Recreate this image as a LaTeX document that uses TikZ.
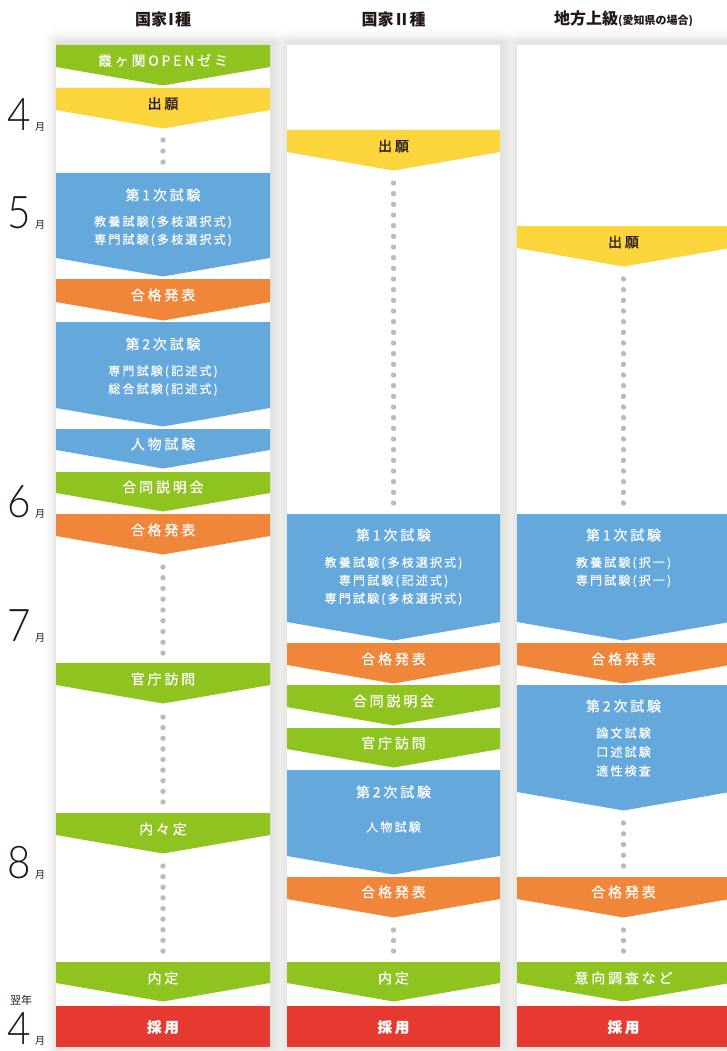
\documentclass[tikz,border=0pt]{standalone}
\usepackage{fontspec}
\newfontfamily\jpT[LetterSpace=20,FakeBold=0.5]{Noto Sans CJK JP}
\newfontfamily\jpS[LetterSpace=18,FakeBold=0.4]{Noto Sans CJK JP}
\newfontfamily\jpH{Noto Sans CJK JP}
\IfFontExistsTF{Lato Light}{\newfontfamily\monthfont{Lato Light}}{\newfontfamily\monthfont{Lato}}
\definecolor{cgreen}{HTML}{8FC31F}
\definecolor{cyellow}{HTML}{FCD43C}
\definecolor{cblue}{HTML}{65A9DC}
\definecolor{corange}{HTML}{F0863A}
\definecolor{cred}{HTML}{E63930}
\definecolor{cdot}{HTML}{BBBBBB}
\definecolor{ctext}{HTML}{231815}
\definecolor{cshadow}{HTML}{55554A}
\tikzset{
  ttl/.style={font=\jpT\fontsize{14}{16}\selectfont, text=white, inner sep=0pt},
  ttlk/.style={font=\jpT\fontsize{14}{16}\selectfont, text=ctext, inner sep=0pt},
  sub/.style={font=\jpS\fontsize{12}{18}\selectfont, text=white, inner sep=0pt, align=center},
  hire/.style={font=\jpT\bfseries\fontsize{14.5}{16}\selectfont, text=white, inner sep=0pt},
  head/.style={font=\jpH\bfseries\fontsize{16}{18}\selectfont, text=ctext, inner sep=0pt},
  mon/.style={font=\monthfont\fontsize{45}{45}\selectfont, text=ctext, inner sep=0pt, anchor=base west, xscale=0.9},
  monk/.style={font=\jpH\fontsize{10}{10}\selectfont, text=ctext, inner sep=0pt, anchor=base west},
}
\newcommand\chev[5]{%
  \fill[#5] (#1,#3) -- (#2,#3) -- (#2,#4) -- ({(#1+#2)/2},{#4+18.5}) -- (#1,#4) -- cycle;}
\newcommand\dotrun[4]{%
  \foreach \k in {1,...,#4}{\fill[cdot] (#1,{#2+(\k-1)*(#3-#2)/(#4-1)}) circle[radius=2.7];}}
\newcommand\colbg[2]{%
  \foreach \e/\o in {14/0.014,11/0.018,8/0.024,6/0.03,4/0.035,2/0.04}{%
    \fill[cshadow, opacity=\o, rounded corners=\e pt] ({#1-\e+2},{45-\e-2}) rectangle ({#2+\e+3},{1047+\e});}}
\begin{document}
\begin{tikzpicture}[x=1pt,y=-1pt]
\useasboundingbox (0,0) rectangle (727,1051);
\clip (0,0) rectangle (727,1051);
\fill[white] (0,0) rectangle (727,1051);
% column shadows and backgrounds
\colbg{56}{270}
\colbg{287}{500}
\colbg{517}{730}
\fill[white] (56,45) rectangle (270,1047);
\fill[white] (287,45) rectangle (500,1047);
\fill[white] (517,45) rectangle (730,1047);
% headers
\node[head] (h1) at (163,19) {国家\kern-4ptⅠ\kern-4pt種};
\node[head] (h2) at (393.5,19) {国家Ⅱ種};
\node[head] (h3) at (623.5,19) {地方上級{\fontsize{11}{12}\selectfont (愛知県の場合)}};
% months
\node[mon] (m4) at (7,131) {4}; \node[monk] (m4k) at (35,131) {月};
\node[mon] (m5) at (7,228) {5}; \node[monk] (m5k) at (35,228) {月};
\node[mon] (m6) at (7,517) {6}; \node[monk] (m6k) at (35,517) {月};
\node[mon] (m7) at (7,641) {7}; \node[monk] (m7k) at (35,641) {月};
\node[mon] (m8) at (7,878) {8}; \node[monk] (m8k) at (35,878) {月};
\node[monk, font=\jpH\fontsize{11}{11}\selectfont] (ny) at (10,1004) {翌年};
\node[mon] (m4b) at (7,1044) {4}; \node[monk] (m4bk) at (35,1044) {月};
% ---------- column 1
\chev{56}{270}{45}{67}{cgreen}   \node[ttl] (c1a) at (163,60.5) {霞ヶ関OPENゼミ};
\chev{56}{270}{88}{110}{cyellow} \node[ttlk] (c1b) at (163,103.5) {出願};
\dotrun{163}{140}{162}{3}
\chev{56}{270}{173}{258}{cblue}  \node[ttl] (c1c) at (163,195) {第1次試験};
\node[sub] (c1cs) at (163,231) {教養試験(多枝選択式)\\専門試験(多枝選択式)};
\chev{56}{270}{279}{302}{corange} \node[ttl] (c1d) at (163,295) {合格発表};
\chev{56}{270}{322}{408}{cblue}  \node[ttl] (c1e) at (163,344) {第2次試験};
\node[sub] (c1es) at (163,380.5) {専門試験(記述式)\\総合試験(記述式)};
\chev{56}{270}{429}{450}{cblue}  \node[ttl] (c1f) at (163,444) {人物試験};
\chev{56}{270}{472}{493}{cgreen} \node[ttl] (c1g) at (163,487) {合同説明会};
\chev{56}{270}{514}{536}{corange} \node[ttl] (c1h) at (163,530) {合格発表};
\dotrun{163}{567}{653}{9}
\chev{56}{270}{663}{685}{cgreen} \node[ttl] (c1i) at (163,679) {官庁訪問};
\dotrun{163}{717}{802}{9}
\chev{56}{270}{813}{835}{cgreen} \node[ttl] (c1j) at (163,829) {内々定};
\dotrun{163}{866}{951}{9}
\chev{56}{270}{962}{983}{cgreen} \node[ttl] (c1k) at (163,978) {内定};
\fill[cred] (56,1006) rectangle (270,1047); \node[hire] (c1l) at (163,1027) {採用};
% ---------- column 2
\chev{287}{500}{130}{152}{cyellow} \node[ttlk] (c2a) at (393.5,146) {出願};
\dotrun{393.5}{183}{503}{31}
\chev{287}{500}{514}{622}{cblue}  \node[ttl] (c2b) at (393.5,535) {第1次試験};
\node[sub] (c2bs) at (393.5,581) {教養試験(多枝選択式)\\専門試験(記述式)\\専門試験(多枝選択式)};
\chev{287}{500}{643}{665}{corange} \node[ttl] (c2c) at (393.5,659) {合格発表};
\chev{287}{500}{685}{707}{cgreen} \node[ttl] (c2d) at (393.5,701) {合同説明会};
\chev{287}{500}{728}{749}{cgreen} \node[ttl] (c2e) at (393.5,743) {官庁訪問};
\chev{287}{500}{770}{856}{cblue}  \node[ttl] (c2f) at (393.5,792) {第2次試験};
\node[sub] (c2fs) at (393.5,827) {人物試験};
\chev{287}{500}{877}{899}{corange} \node[ttl] (c2g) at (393.5,892) {合格発表};
\dotrun{393.5}{930}{951}{3}
\chev{287}{500}{962}{983}{cgreen} \node[ttl] (c2h) at (393.5,978) {内定};
\fill[cred] (287,1006) rectangle (500,1047); \node[hire] (c2i) at (393.5,1027) {採用};
% ---------- column 3
\chev{517}{730}{226}{248}{cyellow} \node[ttlk] (c3a) at (623.5,242) {出願};
\dotrun{623.5}{279}{503}{22}
\chev{517}{730}{514}{622}{cblue}  \node[ttl] (c3b) at (623.5,535) {第1次試験};
\node[sub] (c3bs) at (623.5,572) {教養試験(択一)\\専門試験(択一)};
\chev{517}{730}{643}{665}{corange} \node[ttl] (c3c) at (623.5,659) {合格発表};
\chev{517}{730}{685}{792}{cblue}  \node[ttl] (c3d) at (623.5,706) {第2次試験};
\node[sub, font=\jpS\fontsize{12}{19}\selectfont] (c3ds) at (623.5,752) {論文試験\\口述試験\\適性検査};
\dotrun{623.5}{823}{866}{5}
\chev{517}{730}{877}{899}{corange} \node[ttl] (c3e) at (623.5,892) {合格発表};
\dotrun{623.5}{930}{951}{3}
\chev{517}{730}{962}{983}{cgreen} \node[ttl] (c3f) at (623.5,978) {意向調査など};
\fill[cred] (517,1006) rectangle (730,1047); \node[hire] (c3g) at (623.5,1027) {採用};
\end{tikzpicture}
\end{document}
